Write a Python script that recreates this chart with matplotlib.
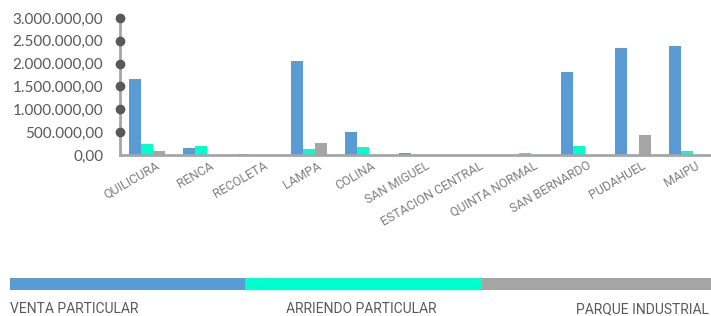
import matplotlib
matplotlib.use("Agg")
import matplotlib.pyplot as plt
import matplotlib.transforms as mtransforms
import numpy as np
from matplotlib.ticker import FuncFormatter

categories = ["QUILICURA", "RENCA", "RECOLETA", "LAMPA", "COLINA", "SAN MIGUEL",
              "ESTACION CENTRAL", "QUINTA NORMAL", "SAN BERNARDO", "PUDAHUEL", "MAIPU"]
venta = [1660000, 150000, 20000, 2050000, 500000, 40000, -10000, -10000, 1810000, 2340000, 2380000]
arriendo = [240000, 200000, -10000, 130000, 180000, -10000, -10000, 40000, 200000, -10000, 90000]
parque = [90000, 0, 0, 260000, 0, 0, 0, 0, 0, 440000, 0]
series_names = ["VENTA PARTICULAR", "ARRIENDO PARTICULAR", "PARQUE INDUSTRIAL"]
colors = ["#5B9BD5", "#00FFCC", "#A5A5A5"]
yticks = [0, 500000, 1000000, 1500000, 2000000, 2500000, 3000000]

W, H = 711, 316
fig = plt.figure(figsize=(W / 100, H / 100), dpi=100)
ax = fig.add_axes([120 / W, 1 - 155 / H, 1 - 120 / W, (155 - 18) / H])

x = np.arange(len(categories))
bw = 0.222
for i, (vals, c) in enumerate(zip([venta, arriendo, parque], colors)):
    ax.bar(x + (i - 1) * bw, vals, width=bw, color=c, zorder=1)

ax.set_xlim(-0.5, 10.444)
ax.set_ylim(0, 3000000)
ax.set_yticks(yticks)

def fmt(v, pos):
    s = f"{v:,.2f}"
    return s.replace(",", "X").replace(".", ",").replace("X", ".")

ax.yaxis.set_major_formatter(FuncFormatter(fmt))
ax.tick_params(axis="y", length=0, pad=12, labelsize=11, labelcolor="#595959")
for lab in ax.get_yticklabels():
    lab.set_fontfamily("Lato")

ax.set_xticks(x)
ax.set_xticklabels(categories, rotation=30, ha="right", va="top",
                   rotation_mode="anchor", fontsize=9, color="#7F7F7F",
                   fontfamily="Roboto")
ax.tick_params(axis="x", length=0, pad=8)
offset = mtransforms.ScaledTranslation(8 / 100, 7 / 100, fig.dpi_scale_trans)
for lab in ax.get_xticklabels():
    lab.set_transform(lab.get_transform() + offset)

for s in ["top", "right"]:
    ax.spines[s].set_visible(False)
for s in ["left", "bottom"]:
    ax.spines[s].set_color("#A6A6A6")
    ax.spines[s].set_linewidth(2)
    ax.spines[s].set_zorder(3)

# dot markers on y axis
ax.plot([-0.5] * (len(yticks) - 1), yticks[1:], "o", color="#595959",
        markersize=6, clip_on=False, zorder=4)

# legend strip
lax = fig.add_axes([0, 0, 1, 1])
lax.set_xlim(0, W)
lax.set_ylim(H, 0)
lax.axis("off")
seg = [(10, 245), (245, 482), (482, 719)]
for (a, b), c in zip(seg, colors):
    lax.fill_between([a, b], 278, 290, color=c, linewidth=0)
lax.text(10, 309, series_names[0], ha="left", va="center", fontsize=10,
         color="#595959", fontfamily="Roboto")
lax.text(361, 309, series_names[1], ha="center", va="center", fontsize=10,
         color="#595959", fontfamily="Roboto")
lax.text(709, 309, series_names[2], ha="right", va="center", fontsize=10,
         color="#595959", fontfamily="Roboto")

fig.savefig("out.png", dpi=100)
